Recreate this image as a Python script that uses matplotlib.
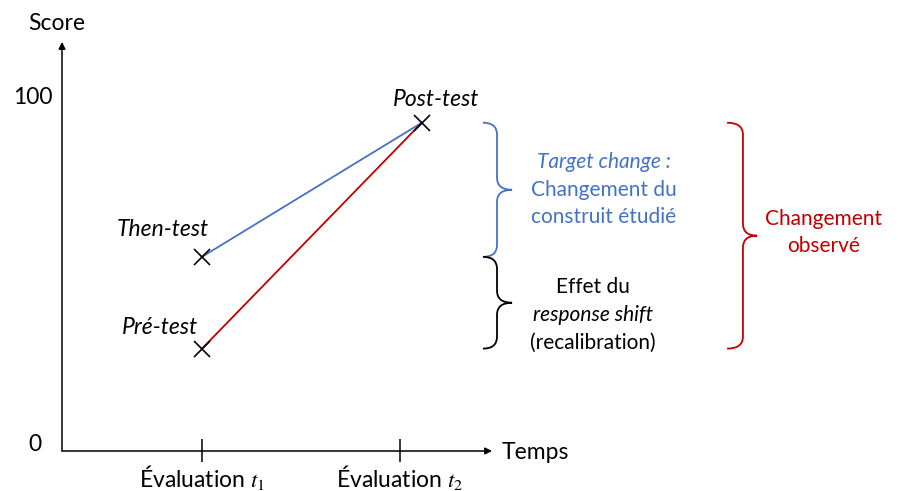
import matplotlib
matplotlib.use("Agg")
import matplotlib.pyplot as plt
from matplotlib.path import Path
from matplotlib.patches import PathPatch

plt.rcParams['font.family'] = ['Lato', 'DejaVu Sans']
plt.rcParams['mathtext.fontset'] = 'stix'

# data
eval_x = [1, 2]
eval_labels = ['Évaluation $t_1$', 'Évaluation $t_2$']
point_names = ['Pré-test', 'Then-test', 'Post-test']
point_x = [1, 1, 2.11]
point_score = [29, 55, 93]
label_offsets = [(-42, 21), (-39, 27), (14, 23)]

BLUE = '#4472C4'
RED = '#C00000'

# pixel layout -> data mapping (t1 at 202px, t2 at 400px, score 0 at 451px, 100 at 98px)
W, H = 898, 491
X1PX, XUNIT = 202, 198.0
Y0PX, YUNIT = 451, 3.53


def brace(ax, x_hook, x_stem, x_tip, y_top, y_bot, color, r=3.4):
    y_mid = (y_top + y_bot) / 2
    verts = [(x_hook, y_top), (x_stem, y_top), (x_stem, y_top - r),
             (x_stem, y_mid + r), (x_stem, y_mid), (x_tip, y_mid),
             (x_stem, y_mid), (x_stem, y_mid - r),
             (x_stem, y_bot + r), (x_stem, y_bot), (x_hook, y_bot)]
    codes = [Path.MOVETO, Path.CURVE3, Path.CURVE3,
             Path.LINETO, Path.CURVE3, Path.CURVE3,
             Path.CURVE3, Path.CURVE3,
             Path.LINETO, Path.CURVE3, Path.CURVE3]
    ax.add_patch(PathPatch(Path(verts, codes), fill=False, edgecolor=color, lw=1.3))


fig = plt.figure(figsize=(W / 100, H / 100), dpi=100)
ax = fig.add_axes([0, 0, 1, 1])
ax.set_xlim(1 - X1PX / XUNIT, 1 + (W - X1PX) / XUNIT)
ax.set_ylim((Y0PX - H) / YUNIT, Y0PX / YUNIT)
ax.axis('off')

x_origin = 0.293
# axes arrows
ax.annotate('', xy=(2.465, 0), xytext=(x_origin, 0),
            arrowprops=dict(arrowstyle='-|>', lw=1.1, color='black', mutation_scale=10, shrinkA=0, shrinkB=0))
ax.annotate('', xy=(x_origin, 115.9), xytext=(x_origin, 0),
            arrowprops=dict(arrowstyle='-|>', lw=1.1, color='black', mutation_scale=10, shrinkA=0, shrinkB=0))
ax.vlines(eval_x, -3.1, 3.4, color='black', lw=1.1)

ax.text(0.268, 121, 'Score', fontsize=16.5, ha='center', va='center')
ax.text(0.245, 100, '100', fontsize=16.5, ha='right', va='center')
ax.text(0.19, 1.7, '0', fontsize=16.5, ha='right', va='center')
ax.text(2.515, -0.3, 'Temps', fontsize=16.5, ha='left', va='center')
for x, lab in zip(eval_x, eval_labels):
    ax.text(x, -7.6, lab, fontsize=16.5, ha='center', va='center')

# lines
ax.plot([point_x[1], point_x[2]], [point_score[1], point_score[2]], color=BLUE, lw=1.3)
ax.plot([point_x[0], point_x[2]], [point_score[0], point_score[2]], color=RED, lw=1.3)
ax.plot(point_x, point_score, 'x', color='black', ms=11, mew=1.2)
for x, y, name, off in zip(point_x, point_score, point_names, label_offsets):
    ax.annotate(name, (x, y), xytext=off, textcoords='offset pixels',
                fontsize=16.5, style='italic', ha='center', va='center')

# braces
brace(ax, 2.419, 2.490, 2.566, point_score[2], point_score[1], BLUE)
brace(ax, 2.419, 2.490, 2.566, point_score[1], point_score[0], 'black')
brace(ax, 3.652, 3.732, 3.803, point_score[2], point_score[0], RED)

ax.text(3.03, 81.9, 'Target change :', fontsize=15, style='italic', color=BLUE, ha='center', va='center')
ax.text(3.03, 73.9, 'Changement du', fontsize=15, color=BLUE, ha='center', va='center')
ax.text(3.03, 66.3, 'construit étudié', fontsize=15, color=BLUE, ha='center', va='center')
ax.text(2.975, 46.5, 'Effet du', fontsize=15, ha='center', va='center')
ax.text(2.975, 38.5, 'response shift', fontsize=15, style='italic', ha='center', va='center')
ax.text(2.975, 30.6, '(recalibration)', fontsize=15, ha='center', va='center')
ax.text(4.141, 65.7, 'Changement', fontsize=15, color=RED, ha='center', va='center')
ax.text(4.141, 58.1, 'observé', fontsize=15, color=RED, ha='center', va='center')

plt.savefig('out.png', dpi=100)
